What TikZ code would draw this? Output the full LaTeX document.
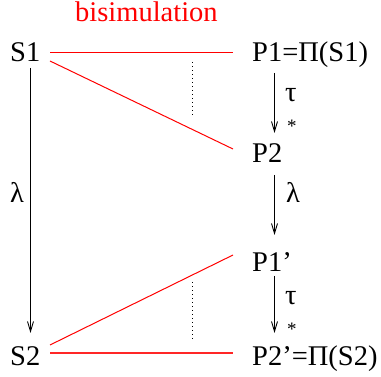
\documentclass[tikz,border=0pt]{standalone}
\usepackage{fontspec}
\setmainfont{Liberation Serif}
\usetikzlibrary{arrows.meta}
\begin{document}
\begin{tikzpicture}[x=1pt,y=-1pt,
  lbl/.style={inner sep=0pt, anchor=base west, font=\rmfamily\fontsize{28.5}{34}\selectfont},
  sm/.style={inner sep=0pt, anchor=base west, font=\rmfamily\fontsize{19}{22}\selectfont},
  arr/.style={draw=black, line width=0.9pt, -{Straight Barb[length=10pt,width=6pt]}},
  bis/.style={draw=red, line width=1pt},
  bisthick/.style={draw=red!85, line width=1.6pt},
  dots/.style={draw=black, line width=0.9pt, dash pattern=on 1pt off 3pt}]
\useasboundingbox (0,0) rectangle (381,377);
% labels
\node[lbl, text=red] (bis) at (75,21.5) {bisimulation};
\node[lbl] (S1) at (10,62) {S1};
\node[lbl] (P1) at (252,62) {P1=Π(S1)};
\node[lbl] (P2) at (252,163) {P2};
\node[lbl] (P1p) at (252,272) {P1'};
\node[lbl] (S2) at (10,366) {S2};
\node[lbl] (P2p) at (252,366) {P2'=Π(S2)};
\node[lbl] (t1) at (285,102) {τ};
\node[sm] (st1) at (287,133) {*};
\node[lbl] (l2) at (286,203) {λ};
\node[lbl] (l1) at (10,203) {λ};
\node[lbl] (t2) at (285,305) {τ};
\node[sm] (st2) at (287,336) {*};
% connector end points
\coordinate (s1a) at (30.5,68);   \coordinate (s2a) at (30.5,333);
\coordinate (p1a) at (274.5,73);  \coordinate (p2b) at (274.5,133);
\coordinate (p2a) at (274.5,175); \coordinate (p1pb) at (274.5,235);
\coordinate (p1pa) at (274.5,276);\coordinate (p2pb) at (274.5,333);
\coordinate (s1r) at (50,52.5);   \coordinate (p1l) at (233,52.5);
\coordinate (s1d) at (50,61);     \coordinate (p2l) at (233,149);
\coordinate (s2u) at (50,345);    \coordinate (p1pl) at (233,255);
\coordinate (s2r) at (50,353);    \coordinate (p2pl) at (233,353);
\coordinate (d1a) at (192.5,62);  \coordinate (d1b) at (192.5,118);
\coordinate (d2a) at (192.5,282); \coordinate (d2b) at (192.5,340);
% arrows
\draw[arr] (s1a) -- (s2a);
\draw[arr] (p1a) -- (p2b);
\draw[arr] (p2a) -- (p1pb);
\draw[arr] (p1pa) -- (p2pb);
% bisimulation lines
\draw[bis] (s1r) -- (p1l);
\draw[bis] (s1d) -- (p2l);
\draw[bis] (s2u) -- (p1pl);
\draw[bisthick] (s2r) -- (p2pl);
% dotted
\draw[dots] (d1a) -- (d1b);
\draw[dots] (d2a) -- (d2b);
\end{tikzpicture}
\end{document}
